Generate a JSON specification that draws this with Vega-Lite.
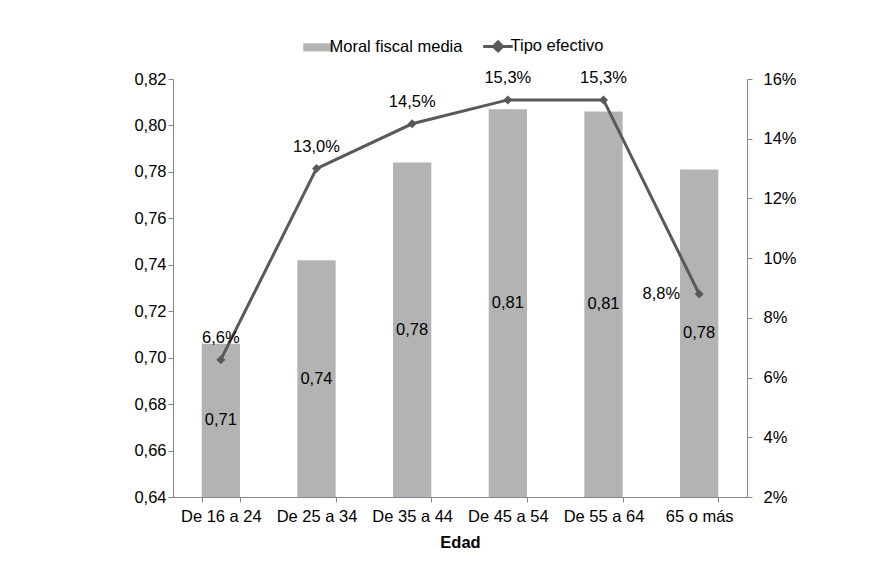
{
  "$schema": "https://vega.github.io/schema/vega-lite/v6.json",
  "width": 574,
  "height": 418,
  "autosize": {"type": "none"},
  "padding": {"left": 173, "top": 79, "right": 143, "bottom": 84},
  "background": "white",
  "config": {
    "locale": {"number": {"decimal": ",", "thousands": ".", "grouping": [3], "currency": ["", " €"]}},
    "font": "Liberation Sans",
    "view": {"stroke": null},
    "axis": {
      "labelFont": "Liberation Sans", "labelFontSize": 16.5, "labelColor": "#000000",
      "domainColor": "#868686", "tickColor": "#868686", "grid": false, "tickSize": 5,
      "titleFont": "Liberation Sans", "titleFontSize": 16.5, "titleColor": "#000000"
    },
    "text": {"font": "Liberation Sans", "fontSize": 16.5, "color": "#000000"}
  },
  "data": {
    "values": [
      {"edad": "De 16 a 24", "moral": 0.706, "tipo": 0.066},
      {"edad": "De 25 a 34", "moral": 0.742, "tipo": 0.130},
      {"edad": "De 35 a 44", "moral": 0.784, "tipo": 0.145},
      {"edad": "De 45 a 54", "moral": 0.807, "tipo": 0.153},
      {"edad": "De 55 a 64", "moral": 0.806, "tipo": 0.153},
      {"edad": "65 o más", "moral": 0.781, "tipo": 0.088}
    ]
  },
  "encoding": {
    "x": {
      "field": "edad", "type": "nominal", "sort": null,
      "scale": {"paddingInner": 0.6, "paddingOuter": 0.3},
      "axis": {"title": "Edad", "labelAngle": 0, "tickBand": "extent", "titleFontWeight": "bold", "labelPadding": 6, "titlePadding": 10}
    }
  },
  "layer": [
    {
      "layer": [
        {
          "mark": {"type": "bar"},
          "encoding": {
            "y": {
              "field": "moral", "type": "quantitative",
              "scale": {"domain": [0.64, 0.82], "zero": false, "nice": false},
              "axis": {"title": null, "values": [0.64, 0.66, 0.68, 0.70, 0.72, 0.74, 0.76, 0.78, 0.80, 0.82], "format": ".2f", "labelPadding": 2}
            },
            "y2": {"datum": 0.64},
            "color": {
              "datum": "Moral fiscal media", "type": "nominal",
              "scale": {"domain": ["Moral fiscal media", "Tipo efectivo"], "range": ["#b3b3b3", "#595959"]},
              "legend": {
                "orient": "none", "legendX": 137, "legendY": -41, "direction": "horizontal", "title": null,
                "labelFont": "Liberation Sans", "labelFontSize": 16.5, "labelColor": "#000000",
                "symbolSize": 900, "labelOffset": 3, "columnPadding": 14,
                "encode": {
                  "symbols": {
                    "update": {
                      "shape": {"signal": "datum.value === 'Tipo efectivo' ? 'M-1.07,0H0.9M-0.08,-0.3L0.22,0L-0.08,0.3L-0.38,0Z' : 'M-1,-0.27H1V0.27H-1Z'"},
                      "fill": {"signal": "datum.value === 'Tipo efectivo' ? '#595959' : '#b3b3b3'"},
                      "stroke": {"signal": "datum.value === 'Tipo efectivo' ? '#595959' : '#b3b3b3'"},
                      "strokeWidth": {"signal": "datum.value === 'Tipo efectivo' ? 3 : 0"},
                      "size": {"value": 900},
                      "opacity": {"value": 1}
                    }
                  }
                }
              }
            }
          }
        },
        {
          "transform": [{"calculate": "(datum.moral + 0.64) / 2", "as": "mid"}],
          "mark": {"type": "text", "baseline": "middle", "fontSize": 16.5},
          "encoding": {
            "y": {"field": "mid", "type": "quantitative"},
            "text": {"field": "moral", "type": "quantitative", "format": ".2f"}
          }
        }
      ]
    },
    {
      "layer": [
        {
          "mark": {"type": "line", "strokeWidth": 3, "point": {"shape": "diamond", "size": 81, "filled": true}},
          "encoding": {
            "y": {
              "field": "tipo", "type": "quantitative",
              "scale": {"domain": [0.02, 0.16], "zero": false, "nice": false},
              "axis": {"orient": "right", "title": null, "values": [0.02, 0.04, 0.06, 0.08, 0.10, 0.12, 0.14, 0.16], "format": ".0%", "labelPadding": 11}
            },
            "color": {"datum": "Tipo efectivo", "type": "nominal"}
          }
        },
        {
          "transform": [{"filter": "datum.edad !== '65 o más'"}],
          "mark": {"type": "text", "baseline": "middle", "dy": -22, "fontSize": 16.5},
          "encoding": {
            "y": {"field": "tipo", "type": "quantitative"},
            "text": {"field": "tipo", "type": "quantitative", "format": ".1%"}
          }
        },
        {
          "transform": [{"filter": "datum.edad === '65 o más'"}],
          "mark": {"type": "text", "baseline": "middle", "align": "right", "dx": -19, "fontSize": 16.5},
          "encoding": {
            "y": {"field": "tipo", "type": "quantitative"},
            "text": {"field": "tipo", "type": "quantitative", "format": ".1%"}
          }
        }
      ]
    }
  ],
  "resolve": {"scale": {"y": "independent"}}
}
